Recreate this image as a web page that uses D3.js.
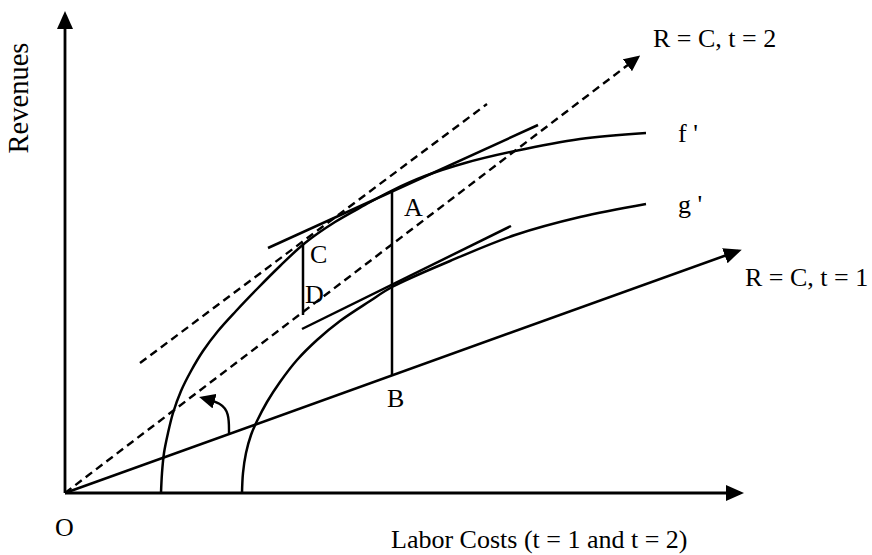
<!DOCTYPE html>
<html>
<head>
<meta charset="utf-8">
<script src="https://cdn.jsdelivr.net/npm/d3@7"></script>
<style>
  html, body { margin: 0; padding: 0; background: #fff; }
  svg text { font-family: "Liberation Serif", "Times New Roman", serif; font-size: 26px; fill: #000; }
</style>
</head>
<body>
<svg id="chart" width="872" height="555"></svg>
<script>
// ---- Data (abstract units: labor costs on x, revenues on y) ----
const xDomain = [0, 678];
const yDomain = [0, 481];

// Revenue curve f' (t = 2) and g' (t = 1)
const fCurve = [[96,0],[97,20],[99,40],[103,60],[108,80],[116,102],[126,122],[138,142],[153,162],
                [171,182],[192,204],[215,227],[240,250],[270,271],[300,288],[326,302],[360,317],
                [400,330],[450,342],[515,354],[581,360]];
const gCurve = [[177,0],[178,20],[181,40],[186,58],[192,72],[202,91],[215,111],[232,133],[252,153],
                [275,172],[305,192],[327,206],[385,232],[450,258],[515,276],[581,289]];

// Break-even rays R = C
const rayT1 = [[0,0],[673,242]];
const rayT2 = [[0,0],[572,435]];
// Parallel dashed line tangent at C
const dashedC = [[75,130],[422,389]];
// Tangent lines at A (on f') and at the g' point
const tangentA = [[203,245],[473,368]];
const tangentG = [[237,164],[446,267]];
// Vertical segments A-B and C-D
const segAB = [[327,303],[327,118]];
const segCD = [[238,250],[238,178]];
// Rotation arrow (from t=1 ray towards t=2 ray)
const rotArrow = [[164,60],[164,80],[156,90],[138,95]];

// Labels
const labels = [
  {t: "R = C, t = 2", p: [588, 446]},
  {t: "R = C, t = 1", p: [680, 207]},
  {t: "f '", p: [613, 351]},
  {t: "g '", p: [613, 280]},
  {t: "A", p: [339, 277]},
  {t: "C", p: [245, 230]},
  {t: "D", p: [240, 190]},
  {t: "B", p: [322, 86]},
  {t: "O", p: [-10, -43]},
  {t: "Labor Costs (t = 1 and t = 2)", p: [326, -55]}
];
const yTitle = {t: "Revenues", p: [-37, 395]};

// ---- Drawing ----
const svg = d3.select("#chart");
const x = d3.scaleLinear().domain(xDomain).range([65, 743]);
const y = d3.scaleLinear().domain(yDomain).range([493, 12]);

const defs = svg.append("defs");
defs.append("marker")
  .attr("id", "arrow")
  .attr("markerUnits", "userSpaceOnUse")
  .attr("viewBox", "0 0 18 16")
  .attr("markerWidth", 18).attr("markerHeight", 16)
  .attr("refX", 14).attr("refY", 8)
  .attr("orient", "auto")
  .append("path").attr("d", "M0,0 L18,8 L0,16 Z").attr("fill", "#000");
defs.append("marker")
  .attr("id", "arrowMid")
  .attr("markerUnits", "userSpaceOnUse")
  .attr("viewBox", "0 0 16 15")
  .attr("markerWidth", 16).attr("markerHeight", 15)
  .attr("refX", 12).attr("refY", 7.5)
  .attr("orient", "auto")
  .append("path").attr("d", "M0,0 L16,7.5 L0,15 Z").attr("fill", "#000");

const line = d3.line().x(d => x(d[0])).y(d => y(d[1]));
const smooth = d3.line().x(d => x(d[0])).y(d => y(d[1])).curve(d3.curveCatmullRom.alpha(0.5));

// Axes
svg.append("path").attr("d", line([[0,0],[0,478]]))
  .attr("stroke", "#000").attr("stroke-width", 2.8).attr("fill", "none").attr("marker-end", "url(#arrow)");
svg.append("path").attr("d", line([[0,0],[675,0]]))
  .attr("stroke", "#000").attr("stroke-width", 2.8).attr("fill", "none").attr("marker-end", "url(#arrow)");

// Rays
svg.append("path").attr("d", line(rayT1))
  .attr("stroke", "#000").attr("stroke-width", 2.6).attr("fill", "none").attr("marker-end", "url(#arrow)");
svg.append("path").attr("d", line(rayT2))
  .attr("stroke", "#000").attr("stroke-width", 2.4).attr("stroke-dasharray", "8,5")
  .attr("fill", "none").attr("marker-end", "url(#arrowMid)");
svg.append("path").attr("d", line(dashedC))
  .attr("stroke", "#000").attr("stroke-width", 2.4).attr("stroke-dasharray", "8,5").attr("fill", "none");

// Curves
[fCurve, gCurve].forEach(c => {
  svg.append("path").attr("d", smooth(c))
    .attr("stroke", "#000").attr("stroke-width", 2.5).attr("fill", "none");
});

// Tangents and segments
[tangentA, tangentG, segAB, segCD].forEach(s => {
  svg.append("path").attr("d", line(s))
    .attr("stroke", "#000").attr("stroke-width", 2.5).attr("fill", "none");
});

// Rotation arrow
svg.append("path").attr("d", d3.line().x(d => x(d[0])).y(d => y(d[1])).curve(d3.curveBasis)(rotArrow))
  .attr("stroke", "#000").attr("stroke-width", 2.4).attr("fill", "none").attr("marker-end", "url(#arrowMid)");

// Labels
svg.selectAll("text.lbl").data(labels).join("text")
  .attr("class", "lbl")
  .attr("x", d => x(d.p[0])).attr("y", d => y(d.p[1]))
  .text(d => d.t);
svg.append("text")
  .attr("transform", `translate(${x(yTitle.p[0])},${y(yTitle.p[1])}) rotate(-90)`)
  .attr("text-anchor", "middle")
  .style("font-size", "28.5px")
  .text(yTitle.t);
</script>
</body>
</html>
